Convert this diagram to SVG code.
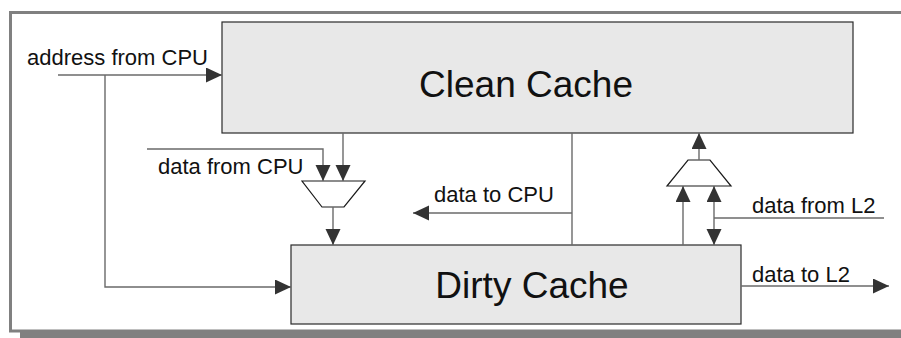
<svg xmlns="http://www.w3.org/2000/svg" width="901" height="338" viewBox="0 0 901 338">
  <style>
    .frame { fill: none; stroke: #808080; stroke-width: 3; }
    .shadow { fill: #808080; }
    .box { fill: #e8e8e8; stroke: #2a2a2a; stroke-width: 1.2; }
    .mux { fill: #ffffff; stroke: #1a1a1a; stroke-width: 1.2; }
    .wire { fill: none; stroke: #6a6a6a; stroke-width: 1.4; }
    .arrow { marker-end: url(#head); }
    .both { marker-start: url(#head); marker-end: url(#head); }
    .label { font-family: "Liberation Sans", Arial, sans-serif; font-size: 22px; fill: #111; }
    .title { font-family: "Liberation Sans", Arial, sans-serif; font-size: 37px; fill: #111; text-anchor: middle; }
  </style>
  <defs>
    <marker id="head" markerUnits="userSpaceOnUse" markerWidth="16" markerHeight="16" refX="16" refY="7.5" orient="auto-start-reverse">
      <path d="M0,0 L16,7.5 L0,15 Z" fill="#333333"/>
    </marker>
  </defs>

  <rect width="901" height="338" fill="#ffffff"/>

  <!-- outer frame with drop shadow -->
  <rect class="shadow" x="20" y="332" width="881" height="6"/>
  <path class="frame" d="M901,12.5 H10.5 V331 H901"/>

  <g id="clean-cache">
    <rect class="box" x="222" y="22" width="631" height="111"/>
    <text class="title" x="526" y="97">Clean Cache</text>
  </g>

  <g id="dirty-cache">
    <rect class="box" x="291" y="245" width="450" height="79"/>
    <text class="title" x="532" y="298">Dirty Cache</text>
  </g>

  <g id="mux-cpu">
    <polygon class="mux" points="302,181 365,181 344,207 322,207"/>
  </g>

  <g id="mux-l2">
    <polygon class="mux" points="688,160 710,160 731,186 667,186"/>
  </g>

  <g id="connectors">
    <path class="wire arrow" d="M58,75 H222"/>
    <path class="wire arrow" d="M105,75 V287 H291"/>
    <path class="wire arrow" d="M147,149 H323 V181"/>
    <path class="wire arrow" d="M343,133 V181"/>
    <path class="wire arrow" d="M333,207 V245"/>
    <path class="wire" d="M572,133 V245"/>
    <path class="wire arrow" d="M572,213 H413"/>
    <path class="wire arrow" d="M683,245 V186"/>
    <path class="wire both" d="M714,186 V245"/>
    <path class="wire" d="M884,218 H714"/>
    <path class="wire arrow" d="M699,160 V133"/>
    <path class="wire arrow" d="M741,286 H889"/>
  </g>

  <g id="labels">
    <text class="label" x="27" y="65">address from CPU</text>
    <text class="label" x="158" y="174">data from CPU</text>
    <text class="label" x="434" y="202">data to CPU</text>
    <text class="label" x="752" y="213">data from L2</text>
    <text class="label" x="752" y="282">data to L2</text>
  </g>
</svg>
